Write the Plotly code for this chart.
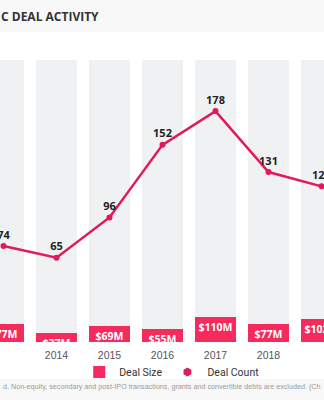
import plotly.graph_objects as go

years = [2013, 2014, 2015, 2016, 2017, 2018, 2019]
year_labels = ["2013", "2014", "2015", "2016", "2017", "2018", "2019"]
deal_size = [77, 37, 69, 55, 110, 77, 102]          # $M
deal_size_labels = ["$77M", "$37M", "$69M", "$55M", "$110M", "$77M", "$102M"]
deal_count = [74, 65, 96, 152, 178, 131, 120]
background = [1, 1, 1, 1, 1, 1, 1]

PINK = "#f72a5d"
LINE = "#e2195b"
GRAY = "#f0f1f3"

W, H = 324, 400
T, B = 60, 58
PH = H - T - B


def py(pix):
    return (H - B - pix) / PH


fig = go.Figure()

fig.add_trace(go.Bar(
    x=years, y=background, yaxis="y", width=0.774,
    marker=dict(color=GRAY, line=dict(width=0)),
    showlegend=False, hoverinfo="skip",
))

fig.add_trace(go.Bar(
    x=years, y=deal_size, yaxis="y2", width=0.774, name="Deal Size",
    marker=dict(color=PINK, line=dict(width=0)),
    text=deal_size_labels, textposition="inside", insidetextanchor="end",
    constraintext="none",
    textfont=dict(family="Open Sans", size=10.5, color="white", weight="bold"),
    showlegend=True,
))

fig.add_trace(go.Scatter(
    x=years, y=deal_count, yaxis="y3", mode="lines+markers+text",
    line=dict(color=LINE, width=2.5), marker=dict(color=LINE, size=6),
    text=[str(v) for v in deal_count], textposition="top center",
    textfont=dict(family="Open Sans", size=11, color="#222", weight="bold"),
    cliponaxis=False, showlegend=False,
))

fig.add_trace(go.Scatter(
    x=[None], y=[None], yaxis="y3", mode="markers", name="Deal Count",
    marker=dict(color=LINE, size=9, symbol="hexagon"),
))

fig.update_layout(
    width=W, height=H,
    margin=dict(l=0, r=0, t=T, b=B, pad=0),
    paper_bgcolor="white", plot_bgcolor="white",
    barmode="overlay", bargap=0,
    xaxis=dict(
        range=[2013 - 3.5 / 53, 2013 + (W - 3.5) / 53],
        tickmode="array", tickvals=years, ticktext=year_labels,
        showgrid=False, zeroline=False, showline=False, ticks="outside",
        ticklen=3, tickcolor="rgba(0,0,0,0)",
        tickfont=dict(family="Liberation Sans", size=10.5, color="#555"),
        fixedrange=True,
    ),
    yaxis=dict(range=[0, 1], visible=False, fixedrange=True),
    yaxis2=dict(range=[0, 1225], overlaying="y", visible=False, fixedrange=True),
    yaxis3=dict(range=[0, 217.4], overlaying="y", visible=False, fixedrange=True),
    legend=dict(
        orientation="h", x=0.53, xanchor="center", y=py(372), yanchor="middle",
        font=dict(family="Roboto", size=10.5, color="#333"),
        itemwidth=30, bgcolor="rgba(0,0,0,0)",
    ),
    shapes=[
        dict(type="rect", xref="paper", yref="paper", x0=0, x1=1,
             y0=py(32), y1=py(0), fillcolor="#f8f8f8", line=dict(width=0), layer="below"),
        dict(type="rect", xref="paper", yref="paper", x0=0, x1=1,
             y0=py(400), y1=py(379), fillcolor="#f8f8f8", line=dict(width=0), layer="below"),
    ],
    annotations=[
        dict(text="C DEAL ACTIVITY", xref="paper", yref="paper", x=-0.003, y=py(16),
             xanchor="left", yanchor="middle", showarrow=False,
             font=dict(family="Open Sans", size=12, color="#333", weight="bold")),
        dict(text="d. Non-equity, secondary and post-IPO transactions, grants and convertible debts are excluded. (Ch",
             xref="paper", yref="paper", x=0.5, y=py(386), xanchor="center", yanchor="middle",
             showarrow=False,
             font=dict(family="Liberation Sans", size=7.2, color="#9a9a9a")),
    ],
)

fig.write_html("out.html")
